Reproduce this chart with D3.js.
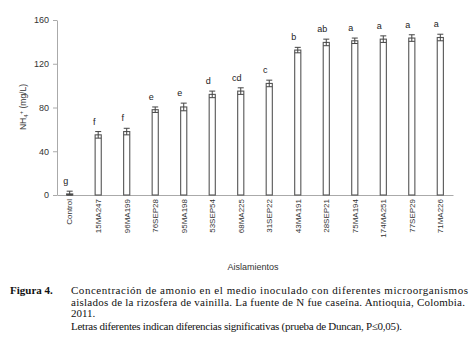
<!DOCTYPE html>
<html>
<head>
<meta charset="utf-8">
<script src="https://cdn.jsdelivr.net/npm/d3@7"></script>
<style>
html,body{margin:0;padding:0;background:#fff;}
svg{display:block;}
</style>
</head>
<body>
<svg id="chart" width="474" height="349"></svg>
<script>
const categories = ["Control","15MA247","96MA199","76SEP28","95MA198","53SEP54","68MA225","31SEP22","43MA191","28SEP21","75MA194","174MA251","77SEP29","71MA226"];
const values = [1, 55, 58, 78, 80.5, 92, 95, 102, 132.5, 139.5, 141, 142.5, 143.5, 144];
const errors = [2.5, 3, 3, 2.5, 3.5, 3, 3, 3, 2.5, 3, 2.5, 3, 3, 3];
const letters = ["g","f","f","e","e","d","cd","c","b","ab","a","a","a","a"];
const yTicks = [0, 40, 80, 120, 160];
const yTitle = {base: "NH", sub: "4", sup: "+", rest: " (mg/L)"};
const xTitle = "Aislamientos";
const captionLabel = "Figura 4.";
const captionLines = [
  "Concentración de amonio en el medio inoculado con diferentes microorganismos",
  "aislados de la rizosfera de vainilla. La fuente de N fue caseína. Antioquia, Colombia.",
  "2011.",
  "Letras diferentes indican diferencias significativas (prueba de Duncan, P\u22640,05)."
];

const svg = d3.select("#chart");
const sans = "Liberation Sans, Arial, sans-serif";
const serif = "Liberation Serif, Times New Roman, serif";

const x = d3.scaleBand().domain(categories).range([57, 453]).paddingInner(0.75).paddingOuter(0.32);
const y = d3.scaleLinear().domain([0, 160]).range([195, 20]);

// y axis
const yAxis = d3.axisLeft(y).tickValues(yTicks).tickSizeInner(4).tickSizeOuter(0).tickPadding(4);
const gy = svg.append("g").attr("transform", "translate(57,0)").call(yAxis);
gy.selectAll("path,line").attr("stroke", "#aaa");
gy.selectAll("text").attr("font-family", sans).attr("font-size", 9).attr("fill", "#333");

// x axis
const xAxis = d3.axisBottom(x).tickSize(0).tickPadding(3);
const gx = svg.append("g").attr("transform", "translate(0,195)").call(xAxis);
gx.select("path").attr("stroke", "#aaa");
gx.selectAll("text")
  .attr("font-family", sans).attr("font-size", 8).attr("fill", "#333")
  .attr("text-anchor", "end")
  .attr("transform", "rotate(-90)")
  .attr("x", -4).attr("y", 0).attr("dx", null).attr("dy", "0.35em");

const data = categories.map((c, i) => ({c, v: values[i], e: errors[i], l: letters[i]}));

// bars
svg.append("g").selectAll("rect").data(data).join("rect")
  .attr("x", d => x(d.c) + 0.5)
  .attr("y", d => y(d.v))
  .attr("width", x.bandwidth() - 1)
  .attr("height", d => y(0) - y(d.v))
  .attr("fill", "#fff").attr("stroke", "#555").attr("stroke-width", 1.1);

// error bars
const eg = svg.append("g").attr("stroke", "#444").attr("stroke-width", 1);
data.forEach(d => {
  const cx = x(d.c) + x.bandwidth() / 2;
  eg.append("line").attr("x1", cx).attr("x2", cx).attr("y1", y(d.v + d.e)).attr("y2", y(Math.max(0, d.v - d.e)));
  eg.append("line").attr("x1", cx - 3).attr("x2", cx + 3).attr("y1", y(d.v + d.e)).attr("y2", y(d.v + d.e));
  eg.append("line").attr("x1", cx - 3).attr("x2", cx + 3).attr("y1", y(Math.max(0, d.v - d.e))).attr("y2", y(Math.max(0, d.v - d.e)));
});

// letters
svg.append("g").selectAll("text").data(data).join("text")
  .attr("x", d => x(d.c) + x.bandwidth() / 2 - 4)
  .attr("y", d => y(d.v + d.e) - 7)
  .attr("text-anchor", "middle")
  .attr("font-family", sans).attr("font-size", 9).attr("fill", "#222")
  .text(d => d.l);

// y title
const yt = svg.append("text")
  .attr("transform", "translate(26,107) rotate(-90)")
  .attr("text-anchor", "middle")
  .attr("font-family", sans).attr("font-size", 8.5).attr("fill", "#333");
yt.append("tspan").text(yTitle.base);
yt.append("tspan").attr("font-size", 6).attr("dy", "2").text(yTitle.sub);
yt.append("tspan").attr("font-size", 6).attr("dy", "-5").text(yTitle.sup);
yt.append("tspan").attr("dy", "3").text(yTitle.rest);

// x title
svg.append("text").attr("x", 253).attr("y", 270).attr("text-anchor", "middle")
  .attr("font-family", sans).attr("font-size", 9).attr("fill", "#333").text(xTitle);

// caption
svg.append("text").attr("x", 10).attr("y", 294)
  .attr("font-family", serif).attr("font-size", 11).attr("font-weight", "bold").attr("fill", "#111")
  .text(captionLabel);
const capY = [294, 305.7, 317.4, 330];
const capLen = [397, 394, null, 331];
captionLines.forEach((t, i) => {
  const tx = svg.append("text").attr("x", 71).attr("y", capY[i])
    .attr("font-family", serif).attr("font-size", 11).attr("fill", "#111").text(t);
  if (capLen[i]) tx.attr("textLength", capLen[i]).attr("lengthAdjust", "spacing");
});
</script>
</body>
</html>
